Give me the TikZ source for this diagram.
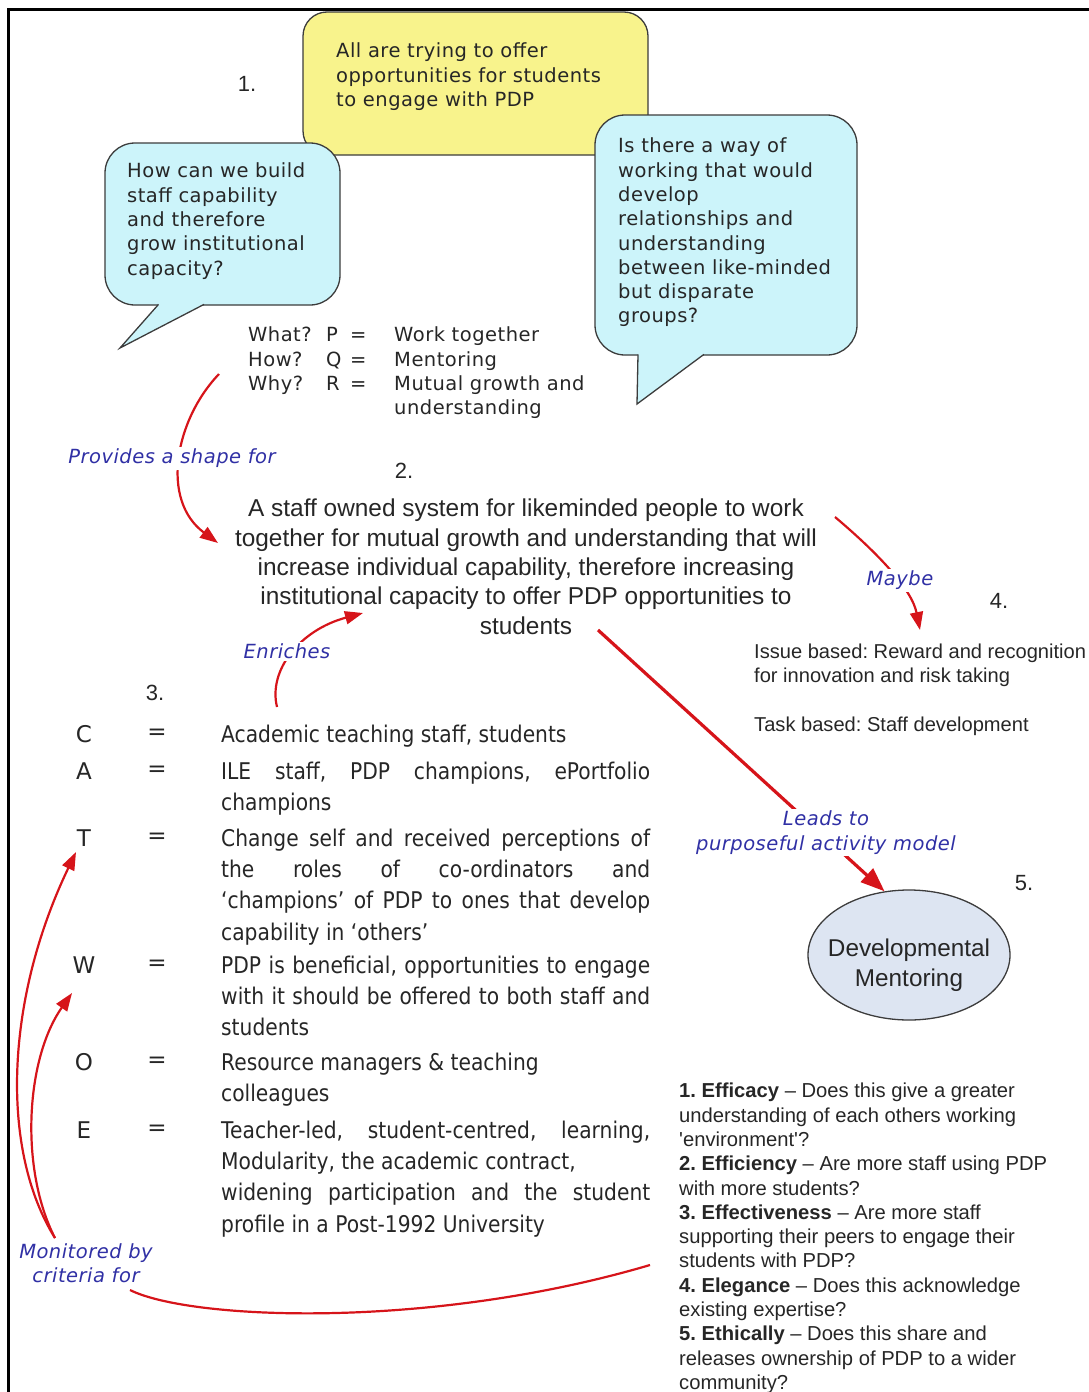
\documentclass[tikz,border=0pt]{standalone}
\usepackage{fontspec}
\setmainfont{DejaVu Sans}
\newfontfamily\bubblefont[LetterSpace=2.5]{DejaVu Sans}
\newfontfamily\arialfont{Liberation Sans}
\newfontfamily\tahomafont[FakeStretch=0.88]{DejaVu Sans}
\usetikzlibrary{arrows.meta,shapes.geometric}
\frenchspacing

\definecolor{edge}{RGB}{60,60,60}
\definecolor{yelfill}{RGB}{248,243,140}
\definecolor{bubfill}{RGB}{204,244,250}
\definecolor{ellfill}{RGB}{221,229,242}
\definecolor{linkred}{RGB}{214,20,26}
\definecolor{labblue}{RGB}{48,48,165}
\definecolor{ink}{RGB}{38,38,38}

% one justified line of the CATWOE column
\newcommand\justline[1]{\makebox[429pt][s]{#1}}
% one row of the P/Q/R table
\newcommand\pqrow[3]{\makebox[78pt][l]{#1}\makebox[24pt][l]{#2}\makebox[44pt][l]{=}#3}

\begin{document}
\begin{tikzpicture}[x=1pt,y=-1pt,
  every node/.style={inner sep=0pt, text=ink},
  frame/.style={line width=3pt, draw=black, line join=miter},
  ybox/.style={draw=edge, fill=yelfill, line width=1.3pt, rounded corners=24pt},
  bub/.style={draw=edge, fill=bubfill, line width=1.3pt, rounded corners=30pt},
  bubedge/.style={draw=edge, line width=1.3pt, line join=miter},
  qtext/.style={font=\bubblefont\fontsize{19.5}{24.3}\selectfont, align=left, anchor=north west},
  num/.style={font=\arialfont\fontsize{22}{26}\selectfont},
  lab/.style={font=\bubblefont\itshape\fontsize{19.5}{24.3}\selectfont, text=labblue, fill=white, inner sep=2pt, align=center},
  link/.style={draw=linkred, line width=2.2pt, -{Triangle[length=18pt,width=13pt]}},
  linkline/.style={draw=linkred, line width=2.2pt},
  cletter/.style={font=\bubblefont\fontsize{23}{30}\selectfont},
  ctext/.style={font=\tahomafont\fontsize{23}{31.3}\selectfont, align=left, anchor=north west},
  arialblock/.style={font=\arialfont\fontsize{20.2}{24.3}\selectfont, align=left, anchor=north west}
]
\useasboundingbox (0,0) rectangle (1089,1392);

% page frame (top and left rules)
\draw[frame] (1089,9.5) -- (8.5,9.5) -- (8.5,1392);

% ---- 1. the three opening questions ----
\node[ybox, minimum width=345pt, minimum height=143pt] (yel) at (475.5,83.5) {};
\node[qtext] (yeltext) at (336,42.8) {All are trying to offer\\opportunities for students\\to engage with PDP};

\node[bub, minimum width=235pt, minimum height=162pt] (lq) at (222.5,224) {};
\fill[bubfill] (159.8,302.5) -- (120,348) -- (206.9,302.5) -- cycle;
\draw[bubedge] (158.5,304.4) -- (120,348) -- (204,304.4);
\node[qtext] (lqtext) at (127,162.8) {How can we build\\staff capability\\and therefore\\grow institutional\\capacity?};

\node[bub, minimum width=262pt, minimum height=240pt] (rq) at (726,235) {};
\fill[bubfill] (638,352.5) -- (637,404) -- (706.3,352.5) -- cycle;
\draw[bubedge] (638,354.4) -- (637,404) -- (703.9,354.4);
\node[qtext] (rqtext) at (618,137.8) {Is there a way of\\working that would\\develop\\relationships and\\understanding\\between like-minded\\but disparate\\groups?};

\node[num] (n1) at (247,84) {1.};

\node[qtext] (pqr) at (248,326.8) {\pqrow{What?}{P}{Work together}\\\pqrow{How?}{Q}{Mentoring}\\\pqrow{Why?}{R}{Mutual growth and}\\\hspace*{146pt}understanding};

% ---- 2. root definition ----
\node[num] (n2) at (404,471) {2.};
\node[font=\arialfont\fontsize{24.4}{29.3}\selectfont, align=center, anchor=north] (aim) at (526,499)
  {A staff owned system for likeminded people to work\\together for mutual growth and understanding that will\\increase individual capability, therefore increasing\\institutional capacity to offer PDP opportunities to\\students};

\coordinate (pqrOut) at (219,374);
\coordinate (aimIn) at (218,543);
\draw[link] (pqrOut) .. controls (175,420) and (160,500) .. (aimIn);
\node[lab] (lprov) at (172,458.5) {Provides a shape for};

% ---- 4. conditions ----
\node[num] (n4) at (999,601) {4.};
\node[arialblock, font=\arialfont\fontsize{20.1}{24.2}\selectfont] (issue) at (754,643.5)
  {Issue based: Reward and recognition\\for innovation and risk taking\\[24.6pt]Task based: Staff development};

\coordinate (aimRight) at (835,517);
\coordinate (issueIn) at (920,630);
\draw[link] (aimRight) .. controls (880,555) and (912,590) .. (issueIn);
\node[lab] (lmaybe) at (900,580.5) {Maybe};

% ---- 3. CATWOE ----
\node[num] (n3) at (155,693) {3.};

\node[cletter] (cC) at (84,734) {C};
\node[cletter] (eC) at (157,734) {=};
\node[ctext] (tC) at (221,724.7) {Academic teaching staff, students};

\node[cletter] (cA) at (84,771) {A};
\node[cletter] (eA) at (157,771) {=};
\node[ctext] (tA) at (221,761.7) {\justline{ILE staff, PDP champions, ePortfolio}\\champions};

\node[cletter] (cT) at (84,838) {T};
\node[cletter] (eT) at (157,838) {=};
\node[ctext] (tT) at (221,828.7) {\justline{Change self and received perceptions of}\\\justline{the roles of co-ordinators and}\\\justline{‘champions’ of PDP to ones that develop}\\capability in ‘others’};

\node[cletter] (cW) at (84,965) {W};
\node[cletter] (eW) at (157,965) {=};
\node[ctext] (tW) at (221,955.7) {\justline{PDP is beneficial, opportunities to engage}\\\justline{with it should be offered to both staff and}\\students};

\node[cletter] (cO) at (84,1062) {O};
\node[cletter] (eO) at (157,1062) {=};
\node[ctext] (tO) at (221,1052.7) {Resource managers \& teaching\\colleagues};

\node[cletter] (cE) at (84,1130) {E};
\node[cletter] (eE) at (157,1130) {=};
\node[ctext] (tE) at (221,1120.7) {\justline{Teacher-led, student-centred, learning,}\\Modularity, the academic contract,\\\justline{widening participation and the student}\\profile in a Post-1992 University};

\coordinate (catOut) at (277,707);
\coordinate (aimLow) at (363,613);
\draw[link] (catOut) .. controls (268,670) and (300,630) .. (aimLow);
\node[lab] (lenr) at (287,651.5) {Enriches};

% ---- 5. model ----
\node[num] (n5) at (1024,883) {5.};
\node[ellipse, draw=edge, fill=ellfill, line width=1.3pt, minimum width=202pt, minimum height=130pt] (dm) at (909,955) {};
\node[font=\arialfont\fontsize{24.3}{30}\selectfont, align=center] (dmtext) at (909,965) {Developmental\\Mentoring};

\coordinate (aimLowR) at (598,630);
\draw[link, line width=3.2pt, -{Triangle[length=24pt,width=18pt]}] (aimLowR) -- (dm.111);
\node[lab] (llead) at (826,832.5) {Leads to\\purposeful activity model};

% ---- evaluation criteria ----
\node[arialblock] (crit) at (679,1083)
  {\textbf{1. Efficacy} – Does this give a greater\\understanding of each others working\\\textquotesingle environment\textquotesingle ?\\
   \textbf{2. Efficiency} – Are more staff using PDP\\with more students?\\
   \textbf{3. Effectiveness} – Are more staff\\supporting their peers to engage their\\students with PDP?\\
   \textbf{4. Elegance} – Does this acknowledge\\existing expertise?\\
   \textbf{5. Ethically} – Does this share and\\releases ownership of PDP to a wider\\community?};

\coordinate (critIn) at (650,1265);
\coordinate (monLow) at (130,1290);
\coordinate (monTop) at (55,1238);
\coordinate (tIn) at (76,852);
\coordinate (wIn) at (72,993);
\draw[linkline] (critIn) .. controls (430,1330) and (190,1320) .. (monLow);
\draw[link] (monTop) .. controls (0,1150) and (5,1000) .. (tIn);
\draw[link] (monTop) .. controls (20,1170) and (25,1060) .. (wIn);
\node[lab] (lmon) at (86,1263.5) {Monitored by\\criteria for};

\end{tikzpicture}
\end{document}
